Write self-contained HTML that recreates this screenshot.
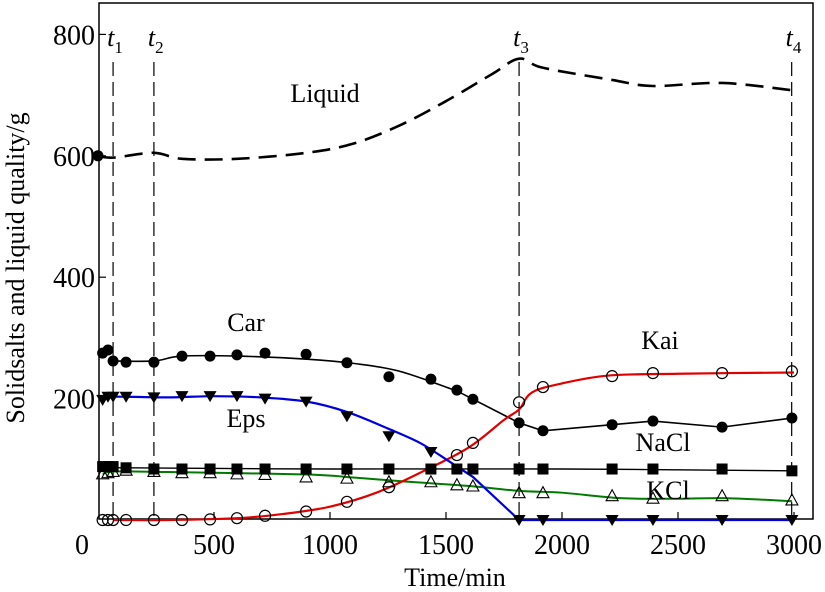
<!DOCTYPE html>
<html><head><meta charset="utf-8"><style>
html,body{margin:0;padding:0;background:#fff;}
svg{display:block;font-family:"Liberation Serif",serif;}
</style></head><body>
<svg id="chart" width="825" height="592" viewBox="0 0 825 592">
<rect x="99" y="3" width="714" height="516" fill="none" stroke="#000" stroke-width="1.5"/>
<g id="ticks"></g>
<g id="series"></g>
<text x="24" y="268" font-size="26" text-anchor="middle" transform="rotate(-90 24 268)">Solidsalts and liquid quality/g</text>
<text x="455" y="586" font-size="26" text-anchor="middle">Time/min</text>
<text x="325" y="102" font-size="26" text-anchor="middle">Liquid</text>
<text x="246" y="331" font-size="26" text-anchor="middle">Car</text>
<text x="246" y="427" font-size="26" text-anchor="middle">Eps</text>
<text x="660" y="349" font-size="26" text-anchor="middle">Kai</text>
<text x="663" y="451" font-size="26" text-anchor="middle">NaCl</text>
<text x="668" y="499" font-size="26" text-anchor="middle">KCl</text>
</svg>
<script>
const xTicks=[0,500,1000,1500,2000,2500,3000];
const yTicks=[200,400,600,800];
const markerTimes=[65,241,1815,2990];
const markerNames=["1","2","3","4"];
const ptX=[20,43,65,121,241,362,483,599,720,897,1073,1254,1435,1547,1616,1815,1918,2216,2392,2690,2991];
const carVals=[275,280,262,260,260,270,270,272,275,273,259,236,232,214,199,160,147,157,163,153,168];
const naclVals=[88,88,88,86,84,84,84,84,84,84,84,84,84,84,84,84,84,84,84,84,81];
const kclVals=[76,78,80,82,80,78,78,76,75,71,69,63,63,58,56,45,45,40,36,40,33];
const epsX=[20,43,65,121,241,362,483,599,720,897,1073,1254,1435,1815,1918,2216,2392,2690,2991];
const epsVals=[198,203,203,203,202,204,204,204,200,195,171,138,112,0,0,0,0,0,0];
const kaiX=[20,43,65,121,241,362,483,599,720,897,1073,1254,1547,1616,1815,1918,2216,2392,2690,2991];
const kaiVals=[0,0,0,0,0,0,1,3,7,14,30,54,107,127,194,219,237,242,242,245];
const carFitX=[65,240,360,600,900,1100,1300,1550,1815,1918,2216,2392,2690,2991];
const carFitV=[262,262,270,270,265,258,245,212,160,147,157,163,153,168];
const epsFitX=[20,65,300,500,700,900,1073,1254,1388,1500,1616,1815,2991];
const epsFitV=[198,203,202,204,202,195,178,150,127,100,71,0,0];
const naclFitX=[20,65,121,1000,2000,2991];
const naclFitV=[87,88,86,84,84,81];
const kclFitX=[20,65,300,900,1100,1300,1600,1815,2000,2250,2500,2700,2991];
const kclFitV=[75,80,79,75,70,64,56,48,45,36,35,36,31];
const kaiFitX=[65,300,600,800,1000,1200,1400,1600,1750,1815,1870,2000,2200,2500,3000];
const kaiFitV=[0,0,3,10,22,45,80,120,165,182,210,225,238,241,243];
const liqX=[0,65,241,362,600,900,1100,1300,1500,1700,1815,1918,2216,2392,2690,2991];
const liqV=[600,597,605,595,595,605,620,650,690,735,760,745,725,715,720,708];

const NS="http://www.w3.org/2000/svg";
const sx=t=>98+t*0.232;
const sy=v=>520-v*0.607;
const tg=document.getElementById('ticks');
const sg=document.getElementById('series');
function mk(tag,attrs,parent){const e=document.createElementNS(NS,tag);for(const k in attrs)e.setAttribute(k,attrs[k]);parent.appendChild(e);return e;}

xTicks.forEach(t=>{
  if(t>0){const l=mk('line',{x1:sx(t),x2:sx(t),y1:519,y2:512,stroke:'#000','stroke-width':1.2},tg);
  
  }
  const tx=mk('text',{x:t===0?82:sx(t),y:554,'font-size':28,'text-anchor':'middle'},tg);
  tx.textContent=t;
  
  
});
yTicks.forEach(v=>{
  const l=mk('line',{x1:99,x2:106,y1:sy(v),y2:sy(v),stroke:'#000','stroke-width':1.2},tg);
  
  
  const tx=mk('text',{x:95,y:sy(v)+10,'font-size':28,'text-anchor':'end'},tg);
  tx.textContent=v;
  
  
});
markerTimes.forEach((t,i)=>{
  const l=mk('line',{x1:sx(t),x2:sx(t),y1:62,y2:519,stroke:'#000','stroke-width':1.2,'stroke-dasharray':'14,6'},sg);
  
  
  const tx=mk('text',{x:sx(t)-6,y:46,'font-size':26,'font-style':'italic'},sg);
  tx.innerHTML='t<tspan font-size="17" font-style="normal" dy="7">'+markerNames[i]+'</tspan>';
  
  
});

function pathD(xs,vs,linFrom){
  const p=xs.map((x,i)=>[sx(x),sy(vs[i])]);
  let d='M'+p[0][0]+','+p[0][1];
  for(let i=0;i<p.length-1;i++){
    if(linFrom!==undefined && i>=linFrom){d+=' L'+p[i+1];continue;}
    const p0=p[i-1]||p[i],p1=p[i],p2=p[i+1];
    let p3=p[i+2]||p2;
    if(linFrom!==undefined && i+1>=linFrom) p3=p2;
    const c1=[p1[0]+(p2[0]-p0[0])/6,p1[1]+(p2[1]-p0[1])/6];
    const c2=[p2[0]-(p3[0]-p1[0])/6,p2[1]-(p3[1]-p1[1])/6];
    d+=' C'+c1+' '+c2+' '+p2;
  }
  return d;
}
function line(xs,vs,color,w,dash,name,linFrom){
  const e=mk('path',{d:pathD(xs,vs,linFrom),fill:'none',stroke:color,'stroke-width':w},sg);
  if(dash)e.setAttribute('stroke-dasharray',dash);
  
  
}
function marker(type,x,v,name){
  const cx=sx(x),cy=sy(v);let e;
  if(type==='dot')e=mk('circle',{cx,cy,r:5.5,fill:'#000'},sg);
  else if(type==='ring')e=mk('circle',{cx,cy,r:5.5,fill:'none',stroke:'#000','stroke-width':1.2},sg);
  else if(type==='sq')e=mk('rect',{x:cx-5.5,y:cy-5.5,width:11,height:11,fill:'#000'},sg);
  else if(type==='tdown')e=mk('polygon',{points:`${cx-6.5},${cy-5} ${cx+6.5},${cy-5} ${cx},${cy+6}`,fill:'#000'},sg);
  else e=mk('polygon',{points:`${cx-6},${cy+5} ${cx+6},${cy+5} ${cx},${cy-6}`,fill:'none',stroke:'#000','stroke-width':1.1},sg);
  
  
}
line(liqX,liqV,'#000',2.6,'18,9','liquid-line');
marker('dot',0,600,'liquid-point');
line(carFitX,carFitV,'#000',1.6,null,'car-line',7);
line(naclFitX,naclFitV,'#000',1.4,null,'nacl-line');
line(kclFitX,kclFitV,'#007a00',2,null,'kcl-line');
line(kaiFitX,kaiFitV,'#e00000',2.2,null,'kai-line');
line(epsFitX,epsFitV,'#0000dd',2.2,null,'eps-line',9);
ptX.forEach((x,i)=>marker('dot',x,carVals[i],'car-point'));
ptX.forEach((x,i)=>marker('sq',x,naclVals[i],'nacl-point'));
ptX.forEach((x,i)=>marker('tup',x,kclVals[i],'kcl-point'));
epsX.forEach((x,i)=>marker('tdown',x,epsVals[i],'eps-point'));
kaiX.forEach((x,i)=>marker('ring',x,kaiVals[i],'kai-point'));
</script>
</body></html>
